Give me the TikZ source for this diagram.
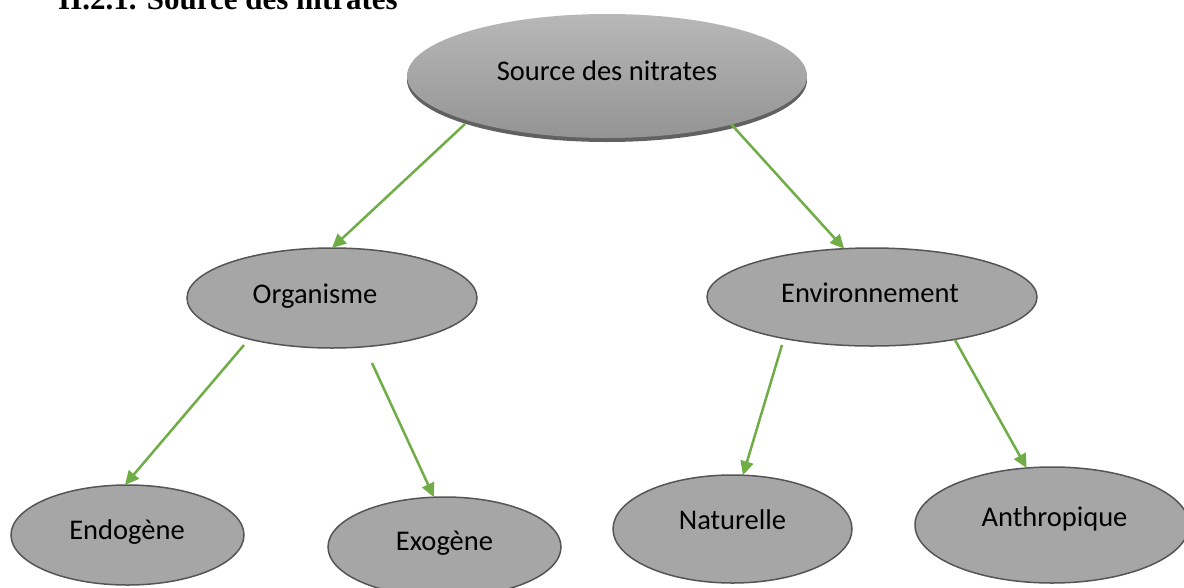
\documentclass[tikz,border=0pt]{standalone}
\usepackage{fontspec}
\setmainfont{Carlito}
\newfontfamily\titlefont{Liberation Serif}
\usetikzlibrary{arrows.meta,shapes.geometric}
\definecolor{arrgreen}{HTML}{70AD47}
\definecolor{ellfill}{HTML}{A6A6A6}
\definecolor{ellline}{HTML}{555555}
\begin{document}
\begin{tikzpicture}[x=1pt,y=-1pt,
  ell/.style={ellipse,draw=ellline,line width=1.5pt,fill=ellfill,inner sep=0pt,outer sep=0pt},
  lbl/.style={anchor=base,font=\fontsize{28.5}{34}\selectfont,text=black,inner sep=0pt},
  arr/.style={draw=arrgreen,line width=2.5pt,-{Triangle[length=14pt,width=13pt]}}]
\useasboundingbox (0,0) rectangle (1184,587);
\clip (0,0) rectangle (1184,587);
\fill[white] (0,0) rectangle (1184,587);
% title (cut at top)
\node[anchor=base west,inner sep=0pt,font=\titlefont\bfseries\fontsize{31}{36}\selectfont] (title) at (58,9) {II.2.1. Source des nitrates};
% top ellipse with shadow
\fill[black!62] (607,80) ellipse [x radius=200pt, y radius=62pt];
\node[ellipse,inner sep=0pt,outer sep=0pt,top color=black!28,bottom color=black!42,
      minimum width=400pt,minimum height=124pt] (top) at (607,76) {};
\node[lbl] (toptxt) at (607,80) {Source des nitrates};
% second level
\node[ell,minimum width=290pt,minimum height=100pt] (org) at (332,298) {};
\node[lbl] (orgtxt) at (315,303) {Organisme};
\node[ell,minimum width=330pt,minimum height=98pt] (env) at (872,297) {};
\node[lbl] (envtxt) at (870,302) {Environnement};
% third level
\node[ell,minimum width=233pt,minimum height=100pt] (endo) at (127.5,535) {};
\node[lbl] (endotxt) at (127,539) {Endogène};
\node[ell,minimum width=233pt,minimum height=100pt] (exo) at (444.5,547) {};
\node[lbl] (exotxt) at (444.5,550) {Exogène};
\node[ell,minimum width=239pt,minimum height=108pt] (nat) at (732.5,529) {};
\node[lbl] (nattxt) at (732.5,529) {Naturelle};
\node[ell,minimum width=274pt,minimum height=116pt] (anth) at (1052,525) {};
\node[lbl] (anthtxt) at (1054.5,526) {Anthropique};
% arrow start points
\coordinate (s1) at (465,124);
\coordinate (s2) at (731,124);
\coordinate (s3) at (244,345);
\coordinate (s4) at (372,363);
\coordinate (s5) at (782,345);
\coordinate (s6) at (955,340);
% arrows
\draw[arr] (s1) -- (org.north);
\draw[arr] (s2) -- (env.120.6);
\draw[arr] (s3) -- (endo.93);
\draw[arr] (s4) -- (exo.102.7);
\draw[arr] (s5) -- (nat.79.4);
\draw[arr] (s6) -- (anth.114.6);
\end{tikzpicture}
\end{document}
